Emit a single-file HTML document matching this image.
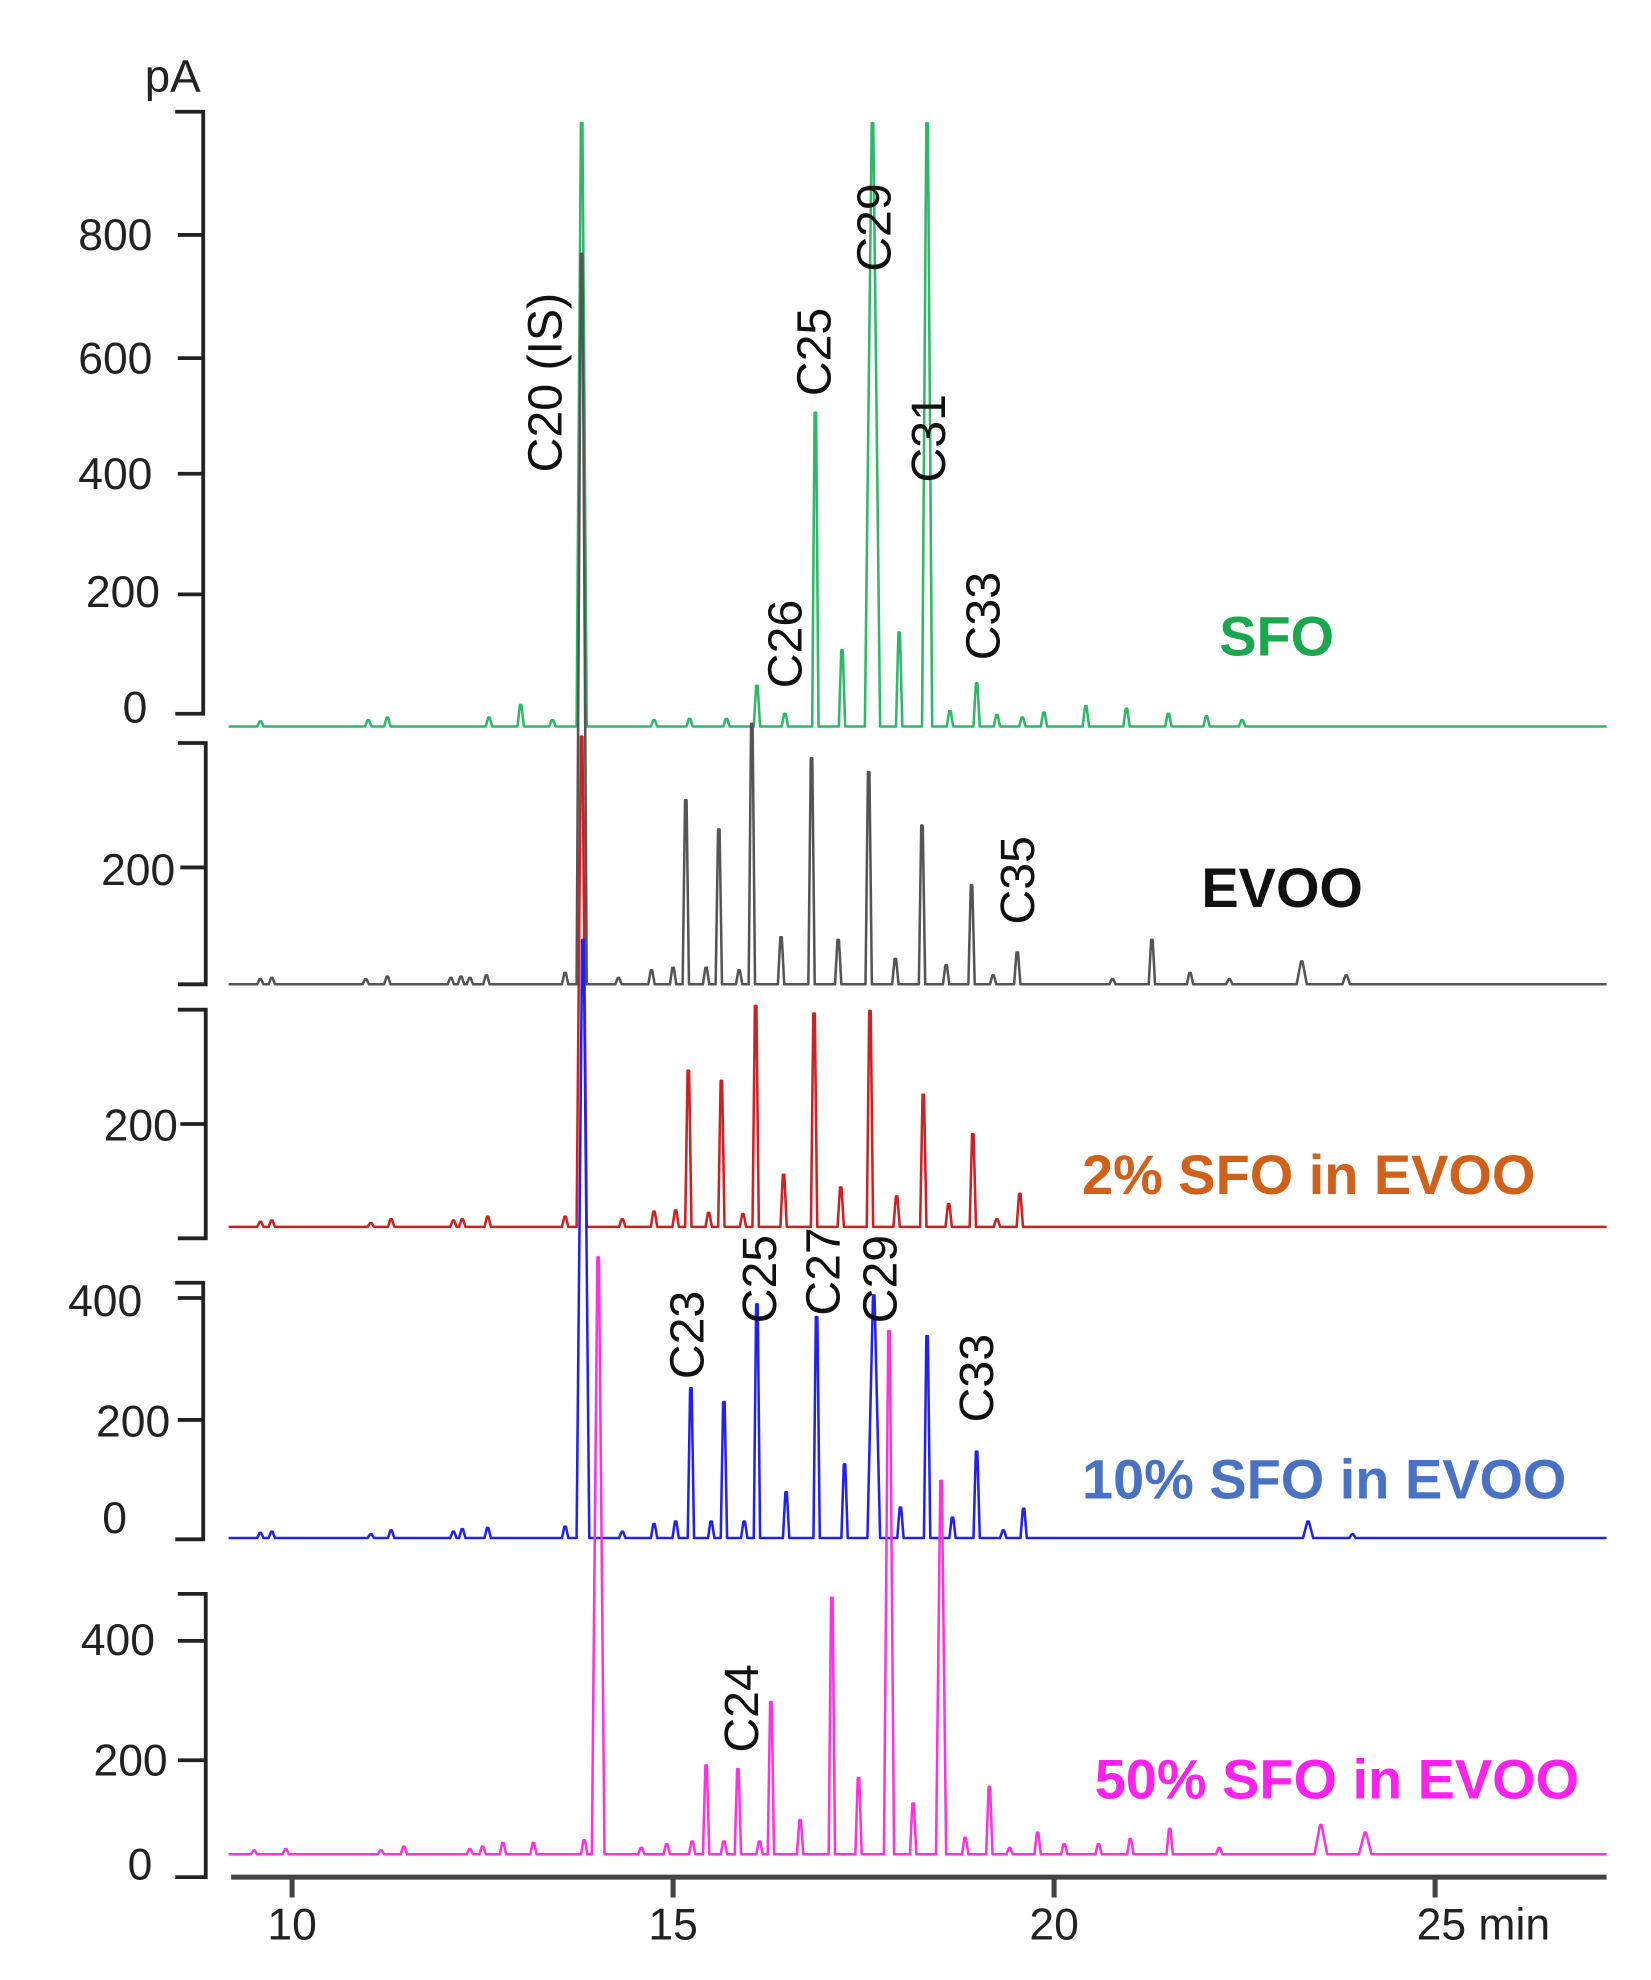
<!DOCTYPE html>
<html><head><meta charset="utf-8"><style>
html,body{margin:0;padding:0;background:#fff;}
svg{display:block;}
text{font-family:"Liberation Sans",sans-serif;}
</style></head><body>
<svg id="s" width="1651" height="1980" viewBox="0 0 1300 1559" preserveAspectRatio="none" xmlns="http://www.w3.org/2000/svg">
<g stroke="#222" stroke-width="3" fill="none">
<path d="M138 88 H160 V562 H138 M140 185 H160 M140 282 H160 M140 373 H160 M140 468 H160"/>
<path d="M140 585 H162 V775 H140 M142 683 H162"/>
<path d="M140 795 H162 V975 H140 M142 885 H162"/>
<path d="M138 1010 H160 V1212 H138 M140 1022 H160 M140 1118 H160"/>
<path d="M140 1255 H162 V1478 H138 M140 1292 H162 M140 1386 H162"/>
<path d="M182 1478 H1265 M230 1478 V1494 M530 1478 V1494 M830 1478 V1494 M1130 1478 V1494" stroke="#444" stroke-width="4"/>
</g>
<g font-size="35" fill="#222" text-anchor="end">
<text x="158" y="72" font-size="36">pA</text>
<text x="120" y="197">800</text><text x="120" y="294">600</text><text x="120" y="385">400</text><text x="126" y="478">200</text><text x="116" y="569">0</text>
<text x="138" y="697">200</text>
<text x="140" y="898">200</text>
<text x="112" y="1036">400</text><text x="134" y="1131">200</text><text x="100" y="1207">0</text>
<text x="122" y="1303">400</text><text x="132" y="1398">200</text><text x="120" y="1480">0</text>
</g>
<g font-size="35" fill="#222" text-anchor="middle">
<text x="230" y="1527">10</text><text x="530" y="1527">15</text><text x="830" y="1527">20</text><text x="1168" y="1527">25 min</text>
</g>
<g id="traces" fill="none" stroke-width="2" stroke-linejoin="round"></g>
<g font-size="38" fill="#111">
<text transform="translate(442,372) rotate(-90)">C20 (IS)</text>
<text transform="translate(654,312) rotate(-90)">C25</text>
<text transform="translate(701,214) rotate(-90)">C29</text>
<text transform="translate(744,380) rotate(-90)">C31</text>
<text transform="translate(631,542) rotate(-90)">C26</text>
<text transform="translate(787,520) rotate(-90)">C33</text>
<text transform="translate(814,728) rotate(-90)">C35</text>
<text transform="translate(554,1086) rotate(-90)">C23</text>
<text transform="translate(611,1042) rotate(-90)">C25</text>
<text transform="translate(661,1036) rotate(-90)">C27</text>
<text transform="translate(706,1042) rotate(-90)">C29</text>
<text transform="translate(782,1120) rotate(-90)">C33</text>
<text transform="translate(597,1380) rotate(-90)">C24</text>
</g>
<g font-size="44" font-weight="bold">
<text x="960" y="516" fill="#1aa84f">SFO</text>
<text x="946" y="714" fill="#111">EVOO</text>
<text x="852" y="940" fill="#d0601a">2% SFO in EVOO</text>
<text x="852" y="1180" fill="#4a72c4">10% SFO in EVOO</text>
<text x="862" y="1416" fill="#ff22ee">50% SFO in EVOO</text>
</g>
</svg>
<script>
var series=[
{c:"#2eb86a",b:572,p:[[205,568],[290,567],[305,565],[385,565],[410,555],[435,567],[458,97,4],[515,567],[543,566],[572,566],[596,540],[618,562],[642,325],[663,512],[687,97,6],[708,498],[730,97,4],[748,560],[769,538],[785,563],[805,565],[822,561],[855,556],[887,558],[920,562],[950,564],[978,567]]},
{c:"#555",b:775,p:[[205,771],[214,770],[288,771],[305,769],[355,770],[363,769],[370,770],[383,768],[445,766],[458,200,4],[487,770],[513,764],[530,762],[540,630],[556,762],[566,653],[582,764],[592,570],[615,738],[639,597],[660,740],[684,608],[705,755],[726,650],[745,760],[765,697],[782,768],[801,750],[876,771],[907,740],[937,766],[968,771],[1025,757,4],[1060,768,3]]},
{c:"#cc2222",b:966,p:[[205,962],[214,961],[292,963],[308,960],[357,961],[364,960],[384,958],[445,958],[458,580,4],[490,960],[515,954],[532,953],[542,843],[558,955],[568,851],[585,956],[595,792],[617,925],[641,798],[662,935],[685,796],[706,942],[727,862],[747,948],[766,893],[785,960],[803,940]]},
{c:"#2222ee",b:1211,p:[[205,1207],[214,1206],[292,1208],[308,1205],[357,1206],[364,1204],[384,1203],[445,1202],[459,740,5],[490,1206],[515,1200],[532,1198],[544,1093],[560,1198],[570,1104],[586,1198],[596,1027],[619,1175],[643,1037],[665,1153],[688,1020,5],[709,1187],[730,1052],[750,1195],[769,1143],[790,1205],[806,1188],[1030,1198,4],[1065,1208]]},
{c:"#ff33dd",b:1460,p:[[200,1457],[225,1456],[300,1457],[318,1454],[370,1456],[380,1454],[396,1451],[420,1451],[460,1449],[471,990,5],[505,1455],[525,1452],[545,1450],[556,1390],[570,1450],[581,1393],[598,1450],[607,1340],[630,1433],[655,1258],[676,1400],[700,1048,4],[719,1420],[741,1166,4],[760,1447],[779,1407],[795,1455],[817,1443],[838,1452],[865,1452],[890,1448],[921,1440],[960,1455],[1040,1437,5],[1075,1443,5]]}
];
var g=document.getElementById('traces'),ns="http://www.w3.org/2000/svg";
series.forEach(function(s){
 var d="M180 "+s.b;
 s.p.forEach(function(q){var w=q[2]||2.5;d+=" L"+(q[0]-w)+" "+s.b+" L"+(q[0]-0.6)+" "+q[1]+" L"+(q[0]+0.6)+" "+q[1]+" L"+(q[0]+w)+" "+s.b;});
 d+=" L1265 "+s.b;
 var p=document.createElementNS(ns,'path');p.setAttribute('d',d);p.setAttribute('stroke',s.c);g.appendChild(p);
});
</script>
</body></html>
